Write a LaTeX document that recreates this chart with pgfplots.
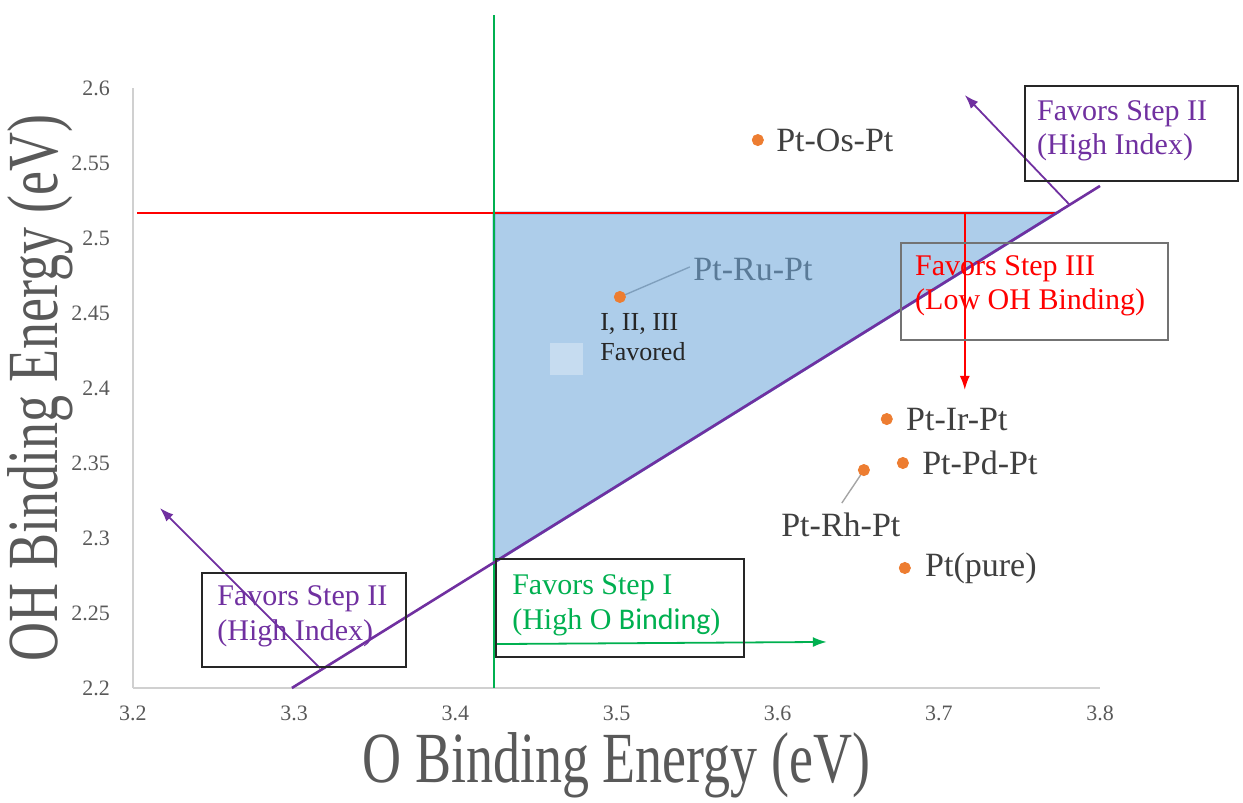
\documentclass[border=0pt]{standalone}
\usepackage{fontspec}
\setmainfont{Liberation Serif}
\newfontfamily\calibri{Carlito}
\usepackage{pgfplots}
\pgfplotsset{compat=1.18}
\usetikzlibrary{arrows.meta}
\definecolor{axgray}{HTML}{D0D0D0}
\definecolor{tickgray}{HTML}{595959}
\definecolor{labgray}{HTML}{595959}
\definecolor{dotorange}{HTML}{ED7D31}
\definecolor{fillblue}{HTML}{5B9BD5}
\definecolor{mypurple}{HTML}{7030A0}
\definecolor{myred}{HTML}{FF0000}
\definecolor{mygreen}{HTML}{00B050}
\definecolor{txtgray}{HTML}{404040}
\definecolor{leadgray}{HTML}{A5A5A5}
\begin{document}
\begin{tikzpicture}
\path[use as bounding box] (-66.5pt,-57.5pt) rectangle (555pt,344pt);
\begin{axis}[
  width=483.5pt, height=300pt, scale only axis,
  xmin=3.2, xmax=3.8, ymin=2.2, ymax=2.6,
  axis lines=left,
  axis line style={-, draw=axgray, line width=1pt},
  xtick={3.2,3.3,3.4,3.5,3.6,3.7,3.8},
  ytick={2.2,2.25,2.3,2.35,2.4,2.45,2.5,2.55,2.6},
  major tick length=0pt,
  /pgf/number format/assume math mode=true,
  tick label style={font=\fontsize{11}{13}\selectfont, text=tickgray},
  xticklabel style={/pgf/number format/fixed, /pgf/number format/precision=1, yshift=-5.5pt},
  yticklabel style={/pgf/number format/fixed, /pgf/number format/precision=2, xshift=-8pt},
  clip=false,
  xlabel={O Binding Energy (eV)},
  ylabel={OH Binding Energy (eV)},
  every axis x label/.style={at={(rel axis cs:0.5,0)}, yshift=-38.5pt, anchor=center,
     font=\fontsize{36}{40}\selectfont, text=labgray, xscale=0.75},
  every axis y label/.style={at={(rel axis cs:0,0.5)}, xshift=-46.5pt, anchor=center,
     rotate=90, xscale=0.75, font=\fontsize{36}{40}\selectfont, text=labgray},
]
% Pt-Ru-Pt point and label (under the translucent region)
\addplot[only marks, mark=*, mark size=2.8pt, color=dotorange] coordinates {(3.5021,2.4607)};
\addplot[leadgray, line width=0.7pt] coordinates {(3.5050,2.4620) (3.5455,2.4807)};
\node[anchor=west, inner sep=0pt, text=labgray, font=\fontsize{17}{19}\selectfont] at (axis cs:3.5475,2.4787) {Pt-Ru-Pt};

% favoured region
\addplot[fill=fillblue, fill opacity=0.5, draw=fillblue, line width=1.4pt, draw opacity=0.9]
  coordinates {(3.424,2.5167) (3.7731,2.5167) (3.424,2.2837)} -- cycle;
\addplot[draw=none, fill=white, fill opacity=0.3] coordinates {(3.4587,2.4300) (3.4792,2.4300) (3.4792,2.4087) (3.4587,2.4087)} -- cycle;

% boundary lines
\addplot[myred, line width=1.3pt] coordinates {(3.2025,2.5167) (3.7731,2.5167)};
\addplot[mygreen, line width=1pt] coordinates {(3.424,2.2) (3.424,2.6487)};
\addplot[mypurple, line width=1.3pt] coordinates {(3.2986,2.2) (3.8,2.5347)};

% arrows
\addplot[mypurple, line width=0.9pt, -{Latex[length=7pt,width=5pt]}] coordinates {(3.7813,2.522) (3.7161,2.5953)};
\addplot[mypurple, line width=0.9pt, -{Latex[length=7pt,width=5pt]}] coordinates {(3.316,2.2133) (3.2167,2.32)};
\addplot[myred, line width=0.9pt, -{Latex[length=7pt,width=5pt]}] coordinates {(3.7161,2.5167) (3.7161,2.3987)};
\addplot[mygreen, line width=0.9pt, -{Latex[length=7pt,width=5pt]}] coordinates {(3.4252,2.2293) (3.6305,2.2307)};

% boxes
\draw[black!85, line width=1pt] (axis cs:3.7533,2.6013) rectangle (axis cs:3.8855,2.538);
\draw[black!55, line width=1pt] (axis cs:3.6764,2.4967) rectangle (axis cs:3.8421,2.432);
\draw[black!85, line width=1pt] (axis cs:3.2428,2.2767) rectangle (axis cs:3.3694,2.214);
\draw[black!85, line width=1pt] (axis cs:3.4252,2.286) rectangle (axis cs:3.5790,2.2207);

\node[anchor=west, inner sep=0pt, align=left, text=mypurple, font=\fontsize{15}{17}\selectfont] at (axis cs:3.7608,2.5713) {Favors Step II\\(High Index)};
\node[anchor=west, inner sep=0pt, align=left, text=myred, font=\fontsize{15}{17}\selectfont] at (axis cs:3.6851,2.468) {Favors Step III\\(Low OH Binding)};
\node[anchor=west, inner sep=0pt, align=left, text=mypurple, font=\fontsize{15}{17.5}\selectfont] at (axis cs:3.2521,2.2477) {Favors Step II\\(High Index)};
\node[anchor=west, inner sep=0pt, align=left, text=mygreen, font=\fontsize{15}{17.5}\selectfont] at (axis cs:3.4351,2.2553) {Favors Step I\\(High O {\calibri Binding})};

% inside label
\node[anchor=west, inner sep=0pt, align=left, text=black!85, font=\fontsize{13}{15}\selectfont] at (axis cs:3.4897,2.434) {I, II, III\\Favored};

% other points
\addplot[only marks, mark=*, mark size=2.8pt, color=dotorange] coordinates {
  (3.5877,2.5653) (3.6677,2.3793) (3.6777,2.3500) (3.6535,2.3453) (3.6789,2.2800)};
\addplot[leadgray, line width=0.7pt] coordinates {(3.6523,2.3433) (3.6398,2.3233)};
\node[anchor=west, inner sep=0pt, text=txtgray, font=\fontsize{17}{19}\selectfont] at (axis cs:3.5989,2.5653) {Pt-Os-Pt};
\node[anchor=west, inner sep=0pt, text=txtgray, font=\fontsize{17}{19}\selectfont] at (axis cs:3.6795,2.3793) {Pt-Ir-Pt};
\node[anchor=west, inner sep=0pt, text=txtgray, font=\fontsize{17}{19}\selectfont] at (axis cs:3.6895,2.3500) {Pt-Pd-Pt};
\node[anchor=center, inner sep=0pt, text=txtgray, font=\fontsize{17}{19}\selectfont] at (axis cs:3.6392,2.3090) {Pt-Rh-Pt};
\node[anchor=west, inner sep=0pt, text=txtgray, font=\fontsize{17}{19}\selectfont] at (axis cs:3.6913,2.2800) {Pt(pure)};
\end{axis}
\end{tikzpicture}
\end{document}
